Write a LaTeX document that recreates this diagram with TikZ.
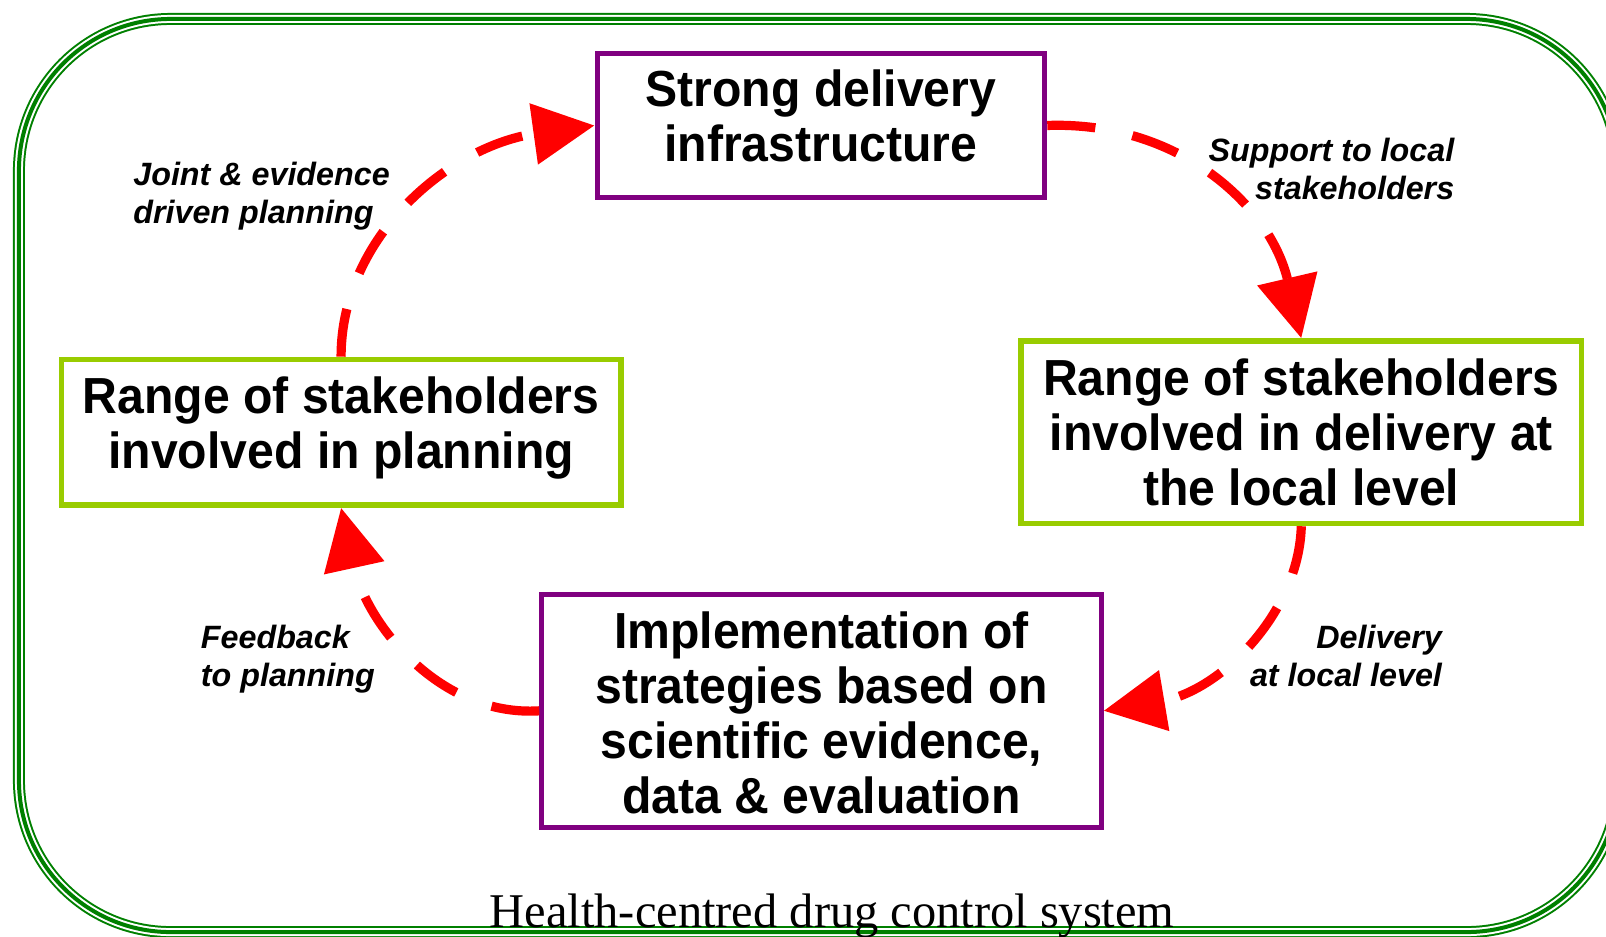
\documentclass[tikz,border=0pt]{standalone}
\usepackage{fontspec}
\setmainfont{Liberation Sans}
\newfontfamily\capfont{Liberation Serif}
\newfontfamily\boxfont[FakeStretch=0.95]{Liberation Sans}
\usetikzlibrary{arrows.meta}
\definecolor{boxpurple}{RGB}{128,0,128}
\definecolor{boxgreen}{RGB}{153,204,0}
\definecolor{framegreen}{RGB}{0,128,0}
\definecolor{arrowred}{RGB}{255,0,0}
\begin{document}
\begin{tikzpicture}[x=1pt,y=-1pt,
  pbox/.style={draw=boxpurple,line width=5pt,inner sep=0pt},
  gbox/.style={draw=boxgreen,line width=5.5pt,inner sep=0pt},
  boxtext/.style={anchor=base,inner sep=0pt,font=\boxfont\fontsize{49.5}{53.7}\selectfont\bfseries},
  lbl/.style={inner sep=0pt,font=\fontsize{31.5}{37}\selectfont\bfseries\itshape},
  flow/.style={draw=arrowred,line width=9pt,dash pattern=on 47pt off 37pt,
    -{Triangle[length=60pt,width=58pt]}},
  framebase/.style={rounded corners=148pt}
]
\useasboundingbox (0,0) rectangle (1568,914);
% frame (triple line)
\draw[framebase,framegreen,line width=11.7pt] (18.5,18.5) rectangle (1580,910);
\draw[framebase,white,line width=7.8pt] (18.5,18.5) rectangle (1580,910);
\draw[framebase,framegreen,line width=3.9pt] (18.5,18.5) rectangle (1580,910);

% boxes
\node[pbox,minimum width=437pt,minimum height=141pt] (tbox) at (801.5,122.5) {};
\node[gbox,minimum width=546pt,minimum height=142pt] (lbox) at (333,422) {};
\node[gbox,minimum width=547pt,minimum height=178pt] (rbox) at (1270.5,422) {};
\node[pbox,minimum width=546pt,minimum height=228pt] (bbox) at (802,694) {};

% box texts
\node[boxtext] (ttext) at (801.5,104) {\begin{tabular}[t]{@{}c@{}}Strong delivery\\infrastructure\end{tabular}};
\node[boxtext] (ltext) at (333,404) {\begin{tabular}[t]{@{}c@{}}Range of stakeholders\\involved in planning\end{tabular}};
\node[boxtext] (rtext) at (1270.5,386) {\begin{tabular}[t]{@{}c@{}}Range of stakeholders\\involved in delivery at\\the local level\end{tabular}};
\node[boxtext] (btext) at (802,633) {\begin{tabular}[t]{@{}c@{}}Implementation of\\strategies based on\\scientific evidence,\\data \& evaluation\end{tabular}};

% connectors
\draw[flow] (lbox.north) .. controls (333,230) and (440,142) .. (tbox.west);
\draw[flow] (tbox.east) .. controls (1150,118) and (1240,200) .. (rbox.north);
\draw[flow] (rbox.south) .. controls (1268,600) and (1190,675) .. (bbox.east);
\draw[flow] (bbox.west) .. controls (430,700) and (358,610) .. (lbox.south);

% labels
\node[lbl,anchor=base west] (l1) at (130,181) {\begin{tabular}[t]{@{}l@{}}Joint \& evidence\\driven planning\end{tabular}};
\node[lbl,anchor=base east] (l2) at (1420,158) {\begin{tabular}[t]{@{}r@{}}Support to local\\stakeholders\end{tabular}};
\node[lbl,anchor=base east] (l3) at (1408,633) {\begin{tabular}[t]{@{}r@{}}Delivery\\at local level\end{tabular}};
\node[lbl,anchor=base west] (l4) at (196,633) {\begin{tabular}[t]{@{}l@{}}Feedback\\to planning\end{tabular}};

% caption
\node[anchor=base,inner sep=0pt,font=\capfont\fontsize{47.3}{50}\selectfont] (cap) at (812.5,906) {Health-centred drug control system};
\end{tikzpicture}
\end{document}
